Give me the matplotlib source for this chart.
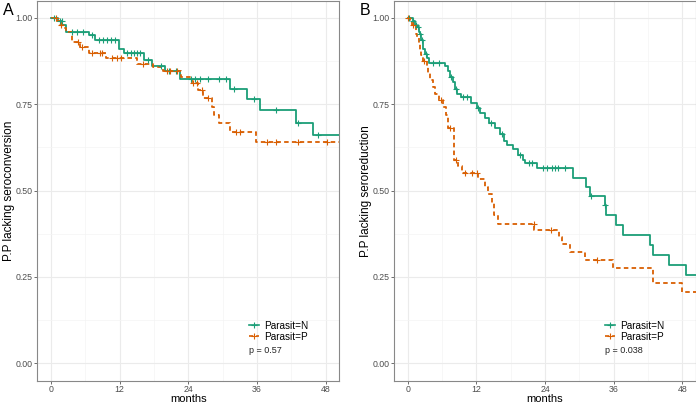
import numpy as np
import matplotlib
matplotlib.use('Agg')
import matplotlib.pyplot as plt
from matplotlib.lines import Line2D

plt.rcParams['font.family'] = ['Liberation Sans', 'DejaVu Sans']

green = '#1B9E77'
orange = '#D95F02'
t_end = 52

# panel A: seroconversion
a_n_t = [0, 1.2, 2.0, 2.6, 6.7, 7.7, 11.9, 12.8, 16.2, 17.6, 19.9, 22.5, 31.3, 34.2, 36.5, 42.9, 45.8]
a_n_s = [1.0, 0.99, 0.98, 0.96, 0.951, 0.936, 0.909, 0.898, 0.878, 0.862, 0.845, 0.822, 0.793, 0.764, 0.734, 0.697, 0.661]
a_n_cens = [0.5, 1.5, 1.9, 3.6, 4.5, 5.6, 7.1, 8.3, 9.0, 9.7, 10.4, 11.1, 13.3, 13.9, 14.5, 15.1, 15.6,
            17.0, 19.2, 20.6, 21.9, 24.4, 25.1, 26.0, 27.5, 29.4, 30.6, 32.0, 35.5, 39.3, 43.1, 46.7]
a_p_t = [0, 1.0, 1.6, 2.15, 2.7, 3.6, 5.1, 6.7, 9.6, 15.0, 17.9, 19.6, 22.8, 24.6, 25.7, 26.6, 28.1, 28.5, 29.4, 31.2, 35.9]
a_p_s = [1.0, 0.99, 0.98, 0.97, 0.958, 0.931, 0.917, 0.9, 0.885, 0.867, 0.857, 0.845, 0.828, 0.813, 0.792, 0.769, 0.743, 0.719, 0.697, 0.671, 0.642]
a_p_cens = [0.8, 1.8, 4.7, 5.4, 7.1, 8.6, 8.9, 10.6, 11.5, 12.3, 16.1, 20.2, 20.8, 22.0, 24.9, 25.5,
            26.3, 27.5, 32.4, 33.0, 37.7, 39.4, 43.2, 48.2]

# panel B: seroreduction
b_n_t = [0, 0.87, 1.2, 1.57, 2.0, 2.15, 2.33, 2.62, 3.03, 3.44, 3.79, 6.52, 7.1, 7.4, 7.86, 8.27, 8.56, 9.26,
         11.0, 12.06, 12.64, 13.5, 14.2, 15.26, 16.1, 16.8, 17.3, 18.46, 19.3, 20.1, 20.5, 22.6, 28.8, 31.2,
         31.9, 34.4, 34.6, 36.4, 37.7, 42.3, 42.8, 45.7, 48.6]
b_n_s = [1.0, 0.99, 0.98, 0.975, 0.96, 0.955, 0.935, 0.91, 0.895, 0.885, 0.87, 0.86, 0.845, 0.83, 0.815, 0.795,
         0.78, 0.77, 0.755, 0.74, 0.725, 0.71, 0.695, 0.68, 0.665, 0.645, 0.632, 0.62, 0.603, 0.59, 0.579, 0.565,
         0.536, 0.511, 0.484, 0.458, 0.429, 0.400, 0.371, 0.343, 0.314, 0.285, 0.256]
b_n_cens = [0.3, 1.0, 1.4, 1.8, 2.2, 2.5, 3.2, 4.5, 5.5, 7.6, 8.4, 9.6, 10.3, 12.3, 14.6, 16.4, 19.6, 21.2,
            21.7, 23.7, 24.3, 25.2, 25.7, 26.3, 27.4, 32.0, 34.5]
b_p_t = [0, 0.4, 0.7, 1.4, 1.7, 2.0, 2.15, 2.3, 2.6, 3.3, 3.6, 3.9, 4.4, 4.8, 5.5, 6.1, 6.7, 7.0, 8.1, 8.7, 9.4,
         12.3, 13.5, 14.1, 14.7, 15.0, 15.8, 22.1, 26.5, 26.9, 28.4, 31.0, 35.8, 42.9, 47.9]
b_p_s = [1.0, 0.99, 0.98, 0.955, 0.946, 0.927, 0.907, 0.893, 0.876, 0.859, 0.84, 0.82, 0.80, 0.78, 0.763, 0.743,
         0.719, 0.68, 0.589, 0.57, 0.552, 0.533, 0.51, 0.49, 0.463, 0.43, 0.403, 0.386, 0.365, 0.345, 0.322,
         0.299, 0.277, 0.232, 0.207]
b_p_cens = [0.1, 1.0, 2.8, 5.8, 7.4, 8.4, 10.0, 11.2, 12.1, 22.0, 25.0, 33.1]

panels = [
    ('A', 'P.P lacking seroconversion', 'p = 0.57', (a_n_t, a_n_s, a_n_cens), (a_p_t, a_p_s, a_p_cens)),
    ('B', 'P.P lacking seroreduction', 'p = 0.038', (b_n_t, b_n_s, b_n_cens), (b_p_t, b_p_s, b_p_cens)),
]
groups = ['Parasit=N', 'Parasit=P']
xticks = [0, 12, 24, 36, 48]
yticks = [0.0, 0.25, 0.5, 0.75, 1.0]

fig = plt.figure(figsize=(6.96, 4.05), dpi=100)
lefts = [37.3 / 696, 394.0 / 696]
dash = (0, (2.5, 1.8))


def surv_at(t, s, x):
    idx = np.searchsorted(t, x, side='right') - 1
    return np.array(s)[idx]


for i, (lab, ylab, ptxt, gn, gp) in enumerate(panels):
    ax = fig.add_axes([lefts[i], 24.4 / 405, 302.1 / 696, 379.9 / 405])
    for (t, s, cens), col, ls in [(gn, green, '-'), (gp, orange, dash)]:
        tt = list(t) + [t_end]
        ss = list(s) + [s[-1]]
        ax.step(tt, ss, where='post', color=col, lw=1.3, linestyle=ls, zorder=3)
        ax.plot(cens, surv_at(t, s, cens), '+', color=col, ms=5, mew=0.8, zorder=4)
    ax.set_xlim(-2.4, 50.4)
    ax.set_ylim(-0.05, 1.05)
    ax.set_xticks(xticks)
    ax.set_yticks(yticks)
    ax.set_yticklabels(['%.2f' % v for v in yticks])
    ax.set_xticks([6, 18, 30, 42], minor=True)
    ax.set_yticks([0.125, 0.375, 0.625, 0.875], minor=True)
    ax.grid(which='major', color='#ebebeb', lw=0.8)
    ax.grid(which='minor', color='#f4f4f4', lw=0.5)
    ax.set_axisbelow(True)
    ax.tick_params(which='major', length=2.3, width=0.6, color='#555555', labelsize=6.3,
                   labelcolor='#4d4d4d', pad=1.0)
    ax.tick_params(which='minor', length=0)
    for sp in ax.spines.values():
        sp.set_color('#888888')
        sp.set_linewidth(0.8)
    ax.set_xlabel('months', fontsize=8)
    ax.xaxis.set_label_coords(0.5, -0.036)
    ax.set_ylabel(ylab, fontsize=8.5)
    ax.yaxis.set_label_coords(-0.074, 0.5)
    handles = [Line2D([], [], color=green, lw=1.2, marker='+', ms=5, mew=0.8),
               Line2D([], [], color=orange, lw=1.2, linestyle=dash, marker='+', ms=5, mew=0.8)]
    ax.legend(handles, groups, loc='upper left', bbox_to_anchor=(0.70, 0.158), frameon=False,
              fontsize=7.2, handlelength=1.0, handletextpad=0.5, labelspacing=0.1, borderpad=0,
              borderaxespad=0)
    ax.text(0.70, 0.078, ptxt, transform=ax.transAxes, fontsize=6.5, va='center', ha='left', color='#222222')
    fig.text(lefts[i] - 0.049, 0.975, lab, fontsize=11.5, va='center', ha='left')

fig.savefig('out.png', dpi=100)
